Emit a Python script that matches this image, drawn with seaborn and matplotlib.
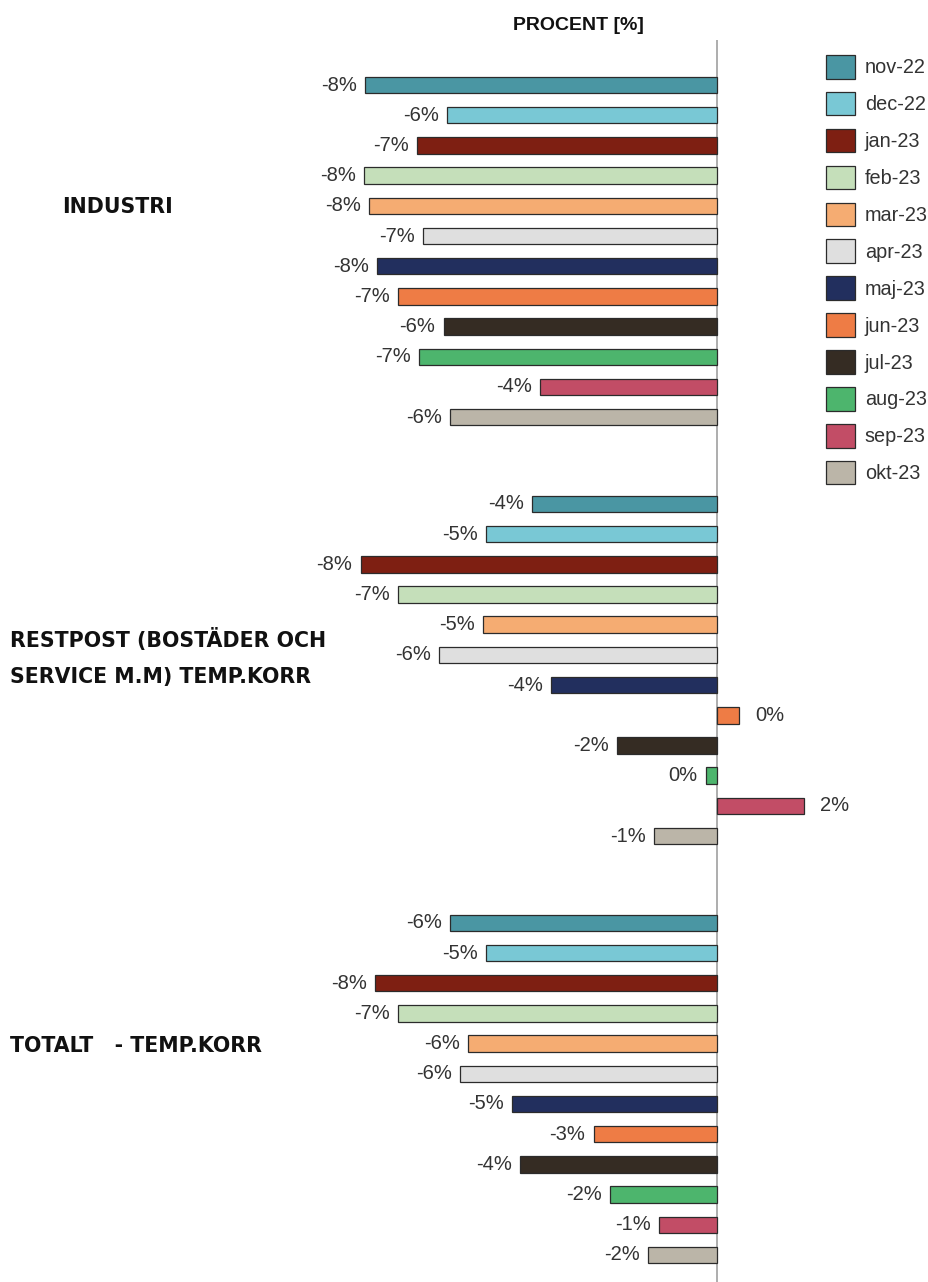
import seaborn as sns
import matplotlib.pyplot as plt
import pandas as pd

# data (percent)
categories = ["INDUSTRI",
              "RESTPOST (BOSTÄDER OCH\nSERVICE M.M) TEMP.KORR",
              "TOTALT   - TEMP.KORR"]
months = ["nov-22", "dec-22", "jan-23", "feb-23", "mar-23", "apr-23",
          "maj-23", "jun-23", "jul-23", "aug-23", "sep-23", "okt-23"]
industri = [-7.91, -6.08, -6.74, -7.94, -7.83, -6.62,
            -7.65, -7.17, -6.15, -6.70, -3.99, -6.00]
restpost = [-4.17, -5.20, -8.02, -7.17, -5.27, -6.26,
            -3.73, 0.48, -2.26, -0.26, 1.94, -1.43]
totalt = [-6.00, -5.20, -7.69, -7.17, -5.60, -5.78,
          -4.62, -2.78, -4.44, -2.42, -1.31, -1.56]
colors = ["#4A96A3", "#79C8D5", "#7E1F12", "#C5DFBA", "#F5AC72", "#DFDFDF",
          "#222F5E", "#EE7C45", "#352C23", "#4DB56D", "#C24D66", "#BBB5A8"]

rows = []
for cat, vals in zip(categories, [industri, restpost, totalt]):
    for m, v in zip(months, vals):
        rows.append((cat, m, v))
df = pd.DataFrame(rows, columns=["kategori", "manad", "procent"])

sns.set_style("white")
plt.rcParams['font.family'] = ['Liberation Sans', 'DejaVu Sans']

fig = plt.figure(figsize=(9.29, 12.82), dpi=100)
ax = fig.add_axes([0, 0, 1, 0.9688])

ax.axvline(0, color="#a0a0a0", lw=1.2, zorder=0)
sns.barplot(data=df, y="kategori", x="procent", hue="manad",
            order=categories, hue_order=months, palette=colors,
            orient="h", width=0.865, gap=0.454, errorbar=None,
            saturation=1, edgecolor="#2b2b2b", linewidth=0.9, ax=ax)

ax.set_xlim(-16.12, 4.753)
ax.set_ylim(2.461, -0.504)
ax.set_xticks([])
ax.set_yticks([])
ax.set_xlabel("")
ax.set_ylabel("")
sns.despine(ax=ax, left=True, bottom=True)

# value labels at bar ends
for cont in ax.containers:
    for p in cont.patches:
        w = p.get_width()
        yc = p.get_y() + p.get_height() / 2
        txt = f"{int(round(w))}%"
        if w >= 0:
            ax.annotate(txt, (w, yc), xytext=(12, 0), textcoords="offset points",
                        ha="left", va="center", fontsize=14.5, color="#333333")
        else:
            ax.annotate(txt, (w, yc), xytext=(-6, 0), textcoords="offset points",
                        ha="right", va="center", fontsize=14.5, color="#333333")

# category labels on the left
label_x = [62 / 929, 10 / 929, 10 / 929]
label_dy = [-0.106, -0.031, -0.103]
trans = ax.get_yaxis_transform()
for i, cat in enumerate(categories):
    ax.text(label_x[i], i + label_dy[i], cat, transform=trans, ha="left",
            va="center", fontsize=14.8, fontweight="bold", color="#111111",
            family="DejaVu Sans", linespacing=2.0)

fig.text(578 / 929, 1 - 25 / 1282, "PROCENT [%]", ha="center", va="center",
         fontsize=14, fontweight="bold", color="#111111")

handles, labels = ax.get_legend_handles_labels()
ax.legend_.remove()
fig.legend(handles, labels, loc="upper left",
           bbox_to_anchor=(826 / 929, 1 - 55 / 1282), frameon=False,
           fontsize=14.3, handlelength=1.45, handleheight=1.45,
           labelspacing=0.67, handletextpad=0.5, borderpad=0,
           borderaxespad=0, labelcolor="#333333")

fig.savefig("out.png", dpi=100)
